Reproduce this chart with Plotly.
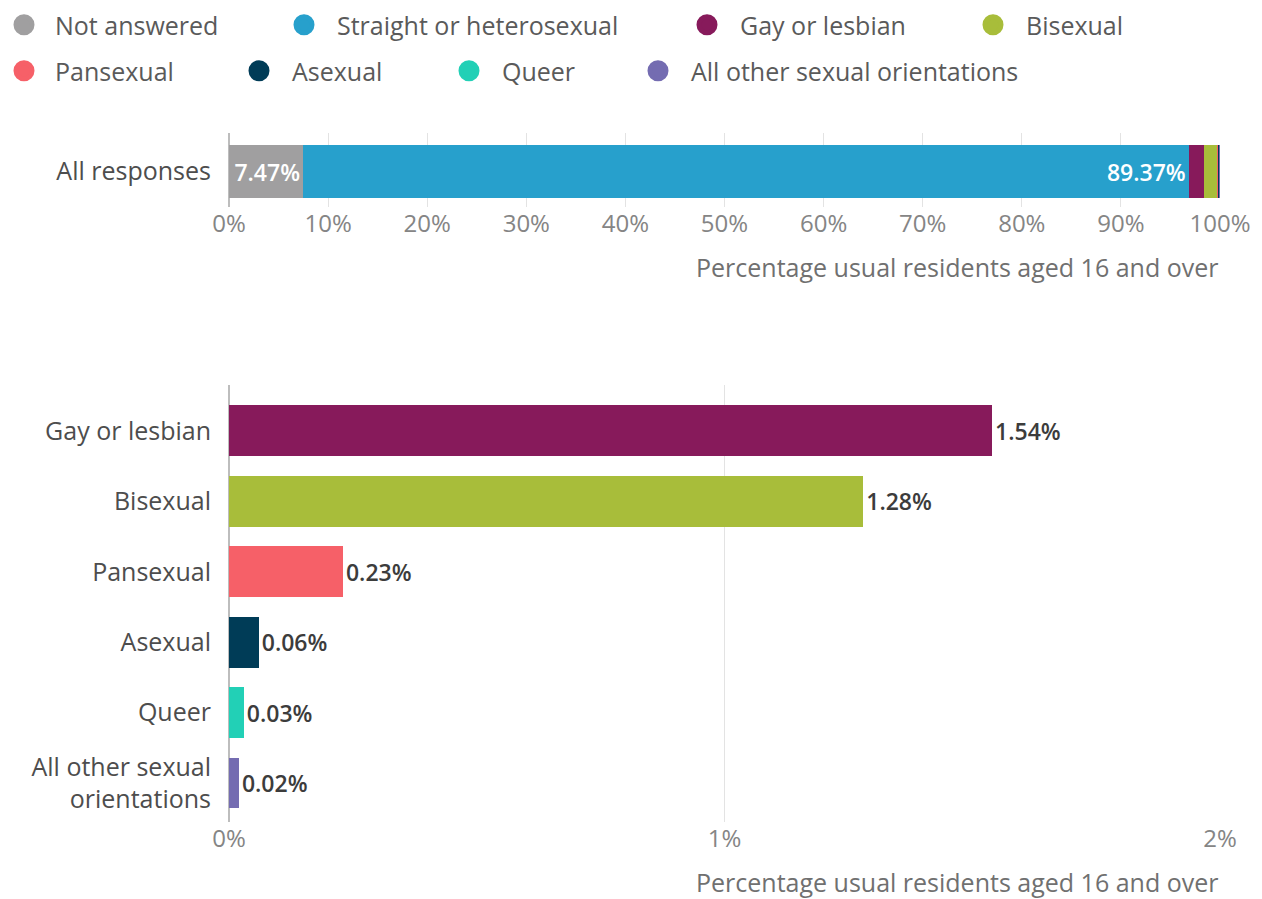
import plotly.graph_objects as go

# ---------------- data ----------------
categories = ["Not answered", "Straight or heterosexual", "Gay or lesbian", "Bisexual",
              "Pansexual", "Asexual", "Queer", "All other sexual orientations"]
values = [7.47, 89.37, 1.54, 1.28, 0.23, 0.06, 0.03, 0.02]
colors = ["#a09fa0", "#27a0cc", "#871a5b", "#a8bd3a",
          "#f66068", "#003c57", "#22d0b6", "#746cb1"]
top_row_label = "All responses"
top_labelled = ["Not answered", "Straight or heterosexual"]

detail_categories = categories[2:]
detail_values = values[2:]
detail_colors = colors[2:]
detail_ticktext = ["Gay or lesbian", "Bisexual", "Pansexual", "Asexual", "Queer",
                   "All other sexual<br>orientations"]

top_tickvals = [0, 10, 20, 30, 40, 50, 60, 70, 80, 90, 100]
top_ticktext = [f"{v}%" for v in top_tickvals]
bottom_tickvals = [0, 1, 2]
bottom_ticktext = [f"{v}%" for v in bottom_tickvals]
axis_title = "Percentage usual residents aged 16 and over"

# ---------------- layout helpers ----------------
OFF = 8                      # page body margin of the browser
W, H = 1262 - OFF, 899 - OFF
FONT = "Open Sans"
LABEL_COL = "#4d4d4d"
TICK_COL = "#858585"
GRID_COL = "#e3e3e3"
ZERO_COL = "#bdbdbd"

# legend item placement (symbol centre x, row centre y, in screen px)
legend_pos = [(21, 25), (304, 25), (707, 25), (993, 25),
              (21, 71), (259, 71), (469, 71), (658, 71)]
ITEMW = 56
CENTER = (ITEMW + 10) / 2
FIRST_ITEMW = 52
FIRST_INDENT = -15

fig = go.Figure()

# stacked bar (top)
for i, (cat, val, col) in enumerate(zip(categories, values, colors)):
    fig.add_trace(go.Bar(
        x=[val], y=[top_row_label], orientation="h",
        marker=dict(color=col, line=dict(width=0)),
        name=cat, showlegend=False,
        text=[f"{val:.2f}%" if cat in top_labelled else ""],
        textposition="inside", insidetextanchor="end",
        textfont=dict(family=FONT, size=23, color="white", weight=600),
        constraintext="none",
        hoverinfo="x+name",
        xaxis="x", yaxis="y",
    ))

# detail bars (bottom)
fig.add_trace(go.Bar(
    x=detail_values, y=detail_categories, orientation="h",
    marker=dict(color=detail_colors, line=dict(width=0)),
    showlegend=False,
    texttemplate="%{x:.2f}%", textposition="outside",
    textfont=dict(family=FONT, size=23, color="#3c3c3c", weight=600),
    cliponaxis=False,
    xaxis="x2", yaxis="y2",
))

# legend entries (circle symbols)
for i, (cat, col) in enumerate(zip(categories, colors)):
    lname = "legend" if i == 0 else f"legend{i+1}"
    fig.add_trace(go.Scatter(
        x=[None], y=[None], mode="markers",
        marker=dict(size=16, color=col, symbol="circle", line=dict(color=col, width=5)),
        name=cat, showlegend=True, legend=lname,
        xaxis="x", yaxis="y",
    ))

layout_legends = {}
for i, (cx, cy) in enumerate(legend_pos):
    lname = "legend" if i == 0 else f"legend{i+1}"
    first_col = cx < 100
    iw = FIRST_ITEMW if first_col else ITEMW
    if first_col:
        lx = 0
    else:
        lx = (cx - OFF - CENTER) / W
    layout_legends[lname] = dict(
        xref="container", yref="container",
        x=lx, y=1 - (cy - OFF) / H,
        xanchor="left", yanchor="middle",
        orientation="h", itemwidth=iw,
        indentation=FIRST_INDENT if first_col else 0,
        bgcolor="rgba(0,0,0,0)", borderwidth=0,
        font=dict(family=FONT, size=25, color="#5a5a5a"),
        itemclick=False, itemdoubleclick=False,
    )

ml, mr, mt, mb = 229 - OFF, 1262 - 1220, 133 - OFF, 899 - 822
plot_h = H - mt - mb

def yp(px):
    # screen px -> paper fraction
    return (822 - px) / plot_h

fig.update_layout(
    width=W, height=H,
    margin=dict(l=ml, r=mr, t=mt, b=mb, autoexpand=False),
    paper_bgcolor="white", plot_bgcolor="white",
    barmode="stack", bargap=0.276,
    font=dict(family=FONT, color=LABEL_COL),
    xaxis=dict(domain=[0, 1], anchor="y", range=[0, 100],
               tickvals=top_tickvals, ticktext=top_ticktext,
               tickfont=dict(family=FONT, size=24, color=TICK_COL),
               showgrid=True, gridcolor=GRID_COL, gridwidth=1,
               zeroline=True, zerolinecolor=ZERO_COL, zerolinewidth=2,
               showline=False, ticks="", fixedrange=True),
    yaxis=dict(domain=[yp(207), 1], anchor="x", type="category",
               range=[-0.485, 0.526],
               tickfont=dict(family=FONT, size=25, color=LABEL_COL),
               showgrid=False, zeroline=False, showline=False,
               ticks="", ticklabelstandoff=17, fixedrange=True),
    xaxis2=dict(domain=[0, 1], anchor="y2", range=[0, 2],
                tickvals=bottom_tickvals, ticktext=bottom_ticktext,
                tickfont=dict(family=FONT, size=24, color=TICK_COL),
                showgrid=True, gridcolor=GRID_COL, gridwidth=1,
                zeroline=True, zerolinecolor=ZERO_COL, zerolinewidth=2,
                showline=False, ticks="", fixedrange=True),
    yaxis2=dict(domain=[0, yp(385)], anchor="x2", type="category",
                categoryorder="array", categoryarray=detail_categories,
                tickvals=detail_categories, ticktext=detail_ticktext,
                range=[5.554, -0.653],
                tickfont=dict(family=FONT, size=25, color=LABEL_COL),
                showgrid=False, zeroline=False, showline=False,
                ticks="", ticklabelstandoff=17, fixedrange=True),
    annotations=[
        dict(text=axis_title, xref="paper", yref="paper", x=1, y=yp(267),
             xanchor="right", yanchor="middle", showarrow=False,
             font=dict(family=FONT, size=25, color="#707070")),
        dict(text=axis_title, xref="paper", yref="paper", x=1, y=yp(882),
             xanchor="right", yanchor="middle", showarrow=False,
             font=dict(family=FONT, size=25, color="#707070")),
    ],
    **layout_legends,
)

fig.write_html("out.html")
